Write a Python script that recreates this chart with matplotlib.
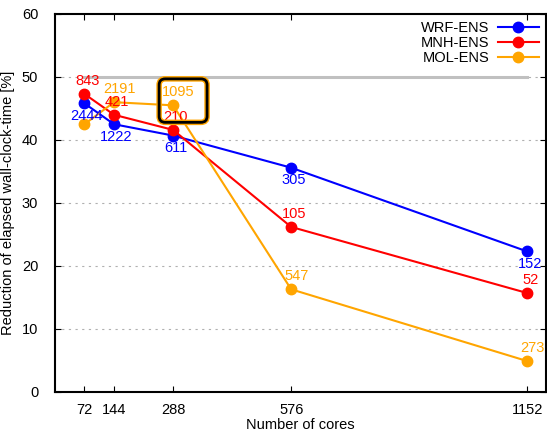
import matplotlib
matplotlib.use('Agg')
import matplotlib.pyplot as plt
from matplotlib.patches import FancyBboxPatch

plt.rcParams['font.family'] = ['Liberation Sans', 'DejaVu Sans']
plt.rcParams['font.size'] = 10.5

# cores and reduction of wall-clock-time [%]
cores = [72, 144, 288, 576, 1152]
wrf = [45.8, 42.5, 40.7, 35.6, 22.3]
mnh = [47.3, 44.0, 41.6, 26.2, 15.7]
mol = [42.5, 46.0, 45.5, 16.3, 4.9]

# point labels (None = no label)
wrf_lab = ['2444', '1222', '611', '305', '152']
mnh_lab = ['843', '421', '210', '105', '52']
mol_lab = [None, '2191', '1095', '547', '273']

fig = plt.figure(figsize=(5.47, 4.34), dpi=100)
ax = fig.add_axes([0.1005, 0.0968, 0.898, 0.871])

# grey reference line at 50 %
ax.plot([cores[0], cores[-1]], [50, 50], color='#c0c0c0', lw=2.2, zorder=1)

# name, values, labels, colour, label offset (pt)
series = [('WRF-ENS', wrf, wrf_lab, '#0000ff', (1.8, -9)),
          ('MNH-ENS', mnh, mnh_lab, '#ff0000', (2, 9.5)),
          ('MOL-ENS', mol, mol_lab, '#ffa500', (4, 9.5))]

for name, y, labs, col, off in series:
    ax.plot(cores, y, color=col, lw=1.5, marker='o', ms=7.5, label=name, zorder=3)
    for xv, yv, t in zip(cores, y, labs):
        if t is None:
            continue
        ax.annotate(t, (xv, yv), xytext=off, textcoords='offset points',
                    ha='center', va='center', color=col, zorder=4)

# highlight box around the 288 MOL-ENS point
for lw, ec in [(4.0, '#ffa500'), (2.0, 'black')]:
    box = FancyBboxPatch((254, 42.8), 117, 6.9,
                         boxstyle='round,pad=0,rounding_size=15',
                         mutation_aspect=0.065, fc='none', ec=ec, lw=lw, zorder=5)
    ax.add_patch(box)

ax.set_xlim(0, 1198)
ax.set_ylim(0, 60)
ax.set_xticks(cores)
ax.set_yticks(range(0, 61, 10))
ax.tick_params(direction='in', length=4, width=0.8, top=True, right=True,
               labeltop=False, labelright=False)
ax.tick_params(axis='y', pad=12)
ax.tick_params(axis='x', pad=8)
for s in ax.spines.values():
    s.set_linewidth(1.5)

for yv in range(10, 60, 10):
    ax.axhline(yv, color='#b0b0b0', lw=0.8, ls=(0, (2, 4)), zorder=0)

ax.set_xlabel('Number of cores', labelpad=1)
ax.set_ylabel('Reduction of elapsed wall-clock-time [%]', labelpad=5)

ax.legend(loc='upper right', frameon=False, markerfirst=False, handlelength=2.8,
          labelspacing=0.05, borderaxespad=0.1, handletextpad=0.6)

plt.savefig('out.png', dpi=100)
